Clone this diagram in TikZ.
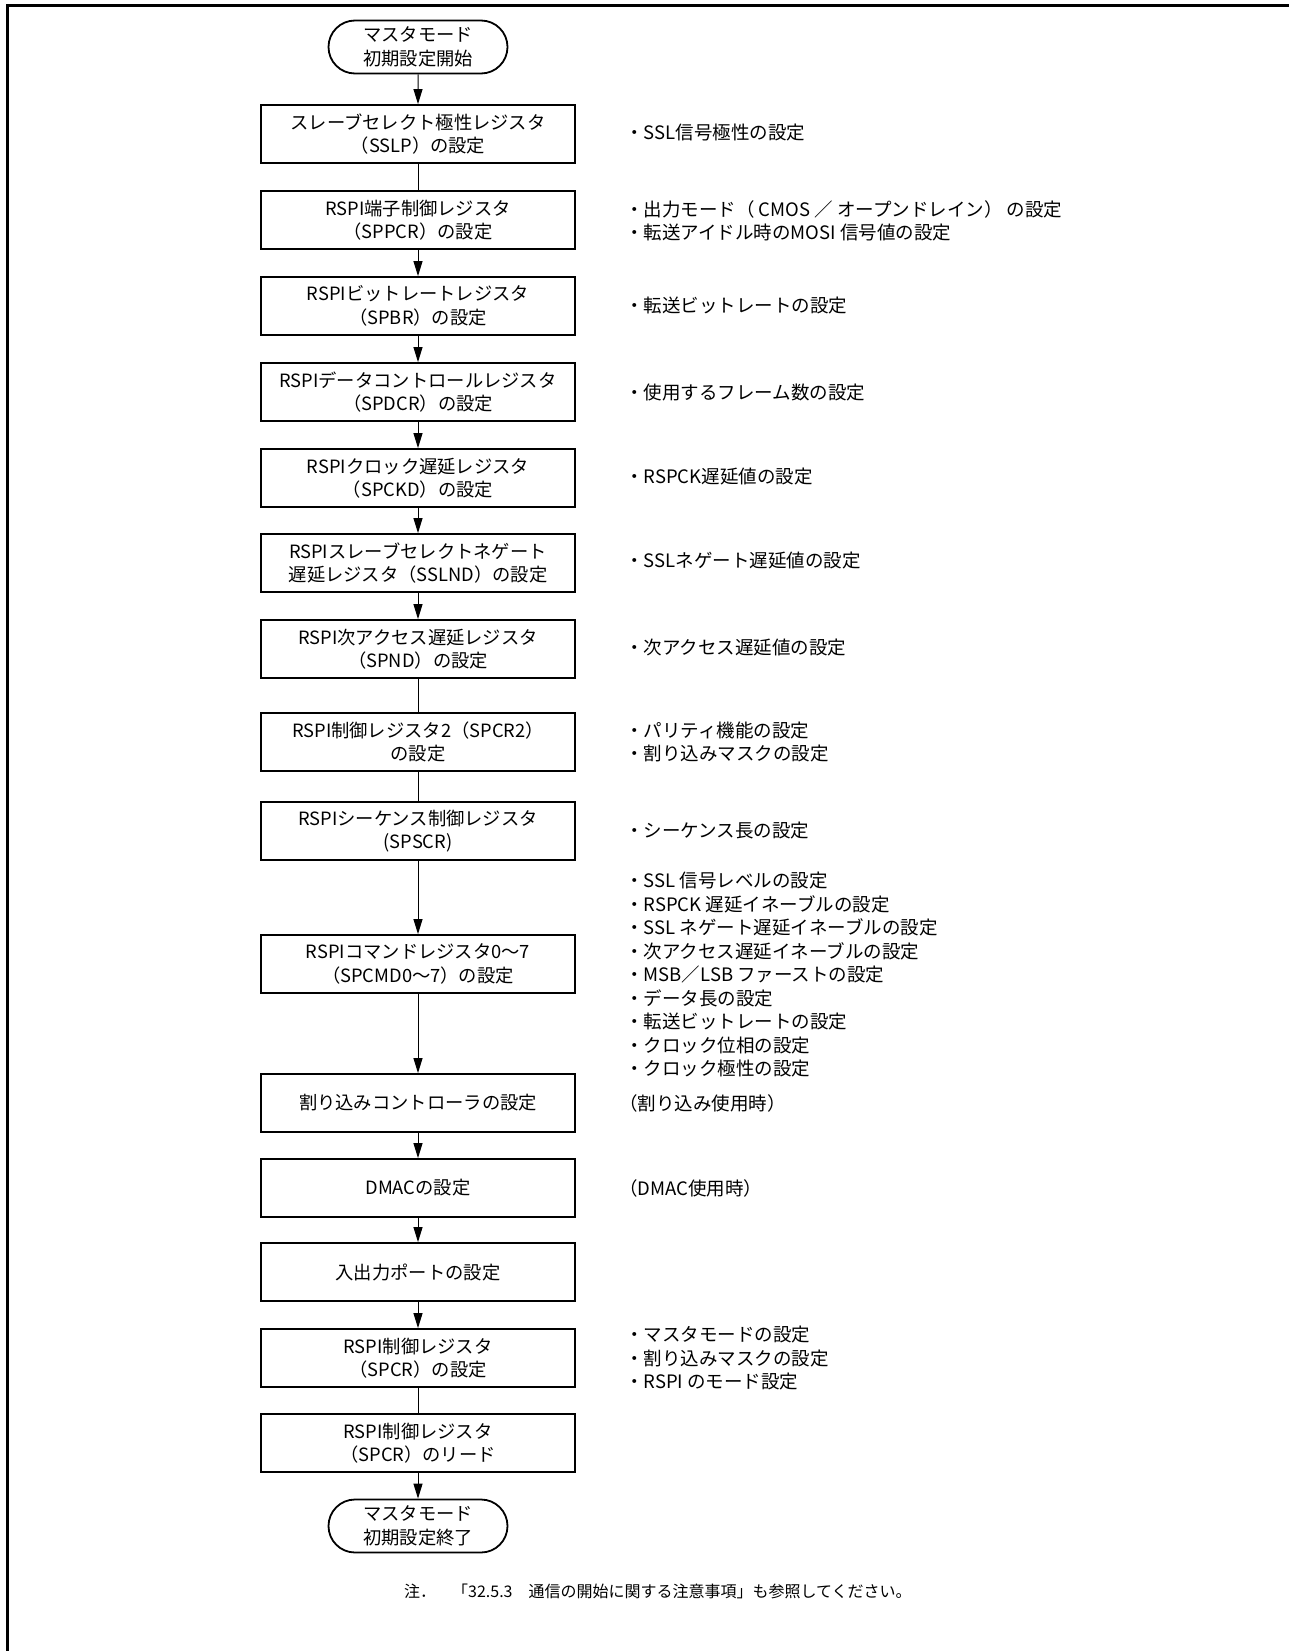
\documentclass[tikz,border=0pt]{standalone}
\usepackage{fontspec}
\setmainfont{Noto Sans CJK JP}
\usetikzlibrary{arrows.meta,shapes.misc}

\tikzset{
  every node/.style={font=\fontsize{18.3}{23.5}\selectfont},
  procbox/.style={draw, line width=1.8pt, minimum width=314pt, minimum height=58pt, align=center, inner sep=0pt},
  term/.style={draw, line width=1.8pt, rounded rectangle, minimum width=179pt, minimum height=53pt, align=center, inner sep=0pt},
  memo/.style={anchor=west, align=left, inner sep=0pt, font=\fontsize{18.5}{23.5}\selectfont},
  notetext/.style={anchor=west, inner sep=0pt, font=\fontsize{16}{20}\selectfont},
  link/.style={line width=1pt},
  flow/.style={line width=1pt, -{Triangle[length=15pt,width=9pt]}},
  frame/.style={line width=3pt},
}

\begin{document}
\begin{tikzpicture}[x=1pt,y=-1pt]
\useasboundingbox (0,0) rectangle (1289,1651);
\draw[frame] (7,1651) -- (7,5.5) -- (1289,5.5);

% flow column
\node[term] (start) at (418,47) {マスタモード\\初期設定開始};
\node[procbox] (b1) at (418,134) {スレーブセレクト極性レジスタ\\（SSLP）の設定};
\node[procbox] (b2) at (418,220) {RSPI端子制御レジスタ\\（SPPCR）の設定};
\node[procbox] (b3) at (418,306) {RSPIビットレートレジスタ\\（SPBR）の設定};
\node[procbox] (b4) at (418,392) {RSPIデータコントロールレジスタ\\（SPDCR）の設定};
\node[procbox] (b5) at (418,478) {RSPIクロック遅延レジスタ\\（SPCKD）の設定};
\node[procbox] (b6) at (418,563) {RSPIスレーブセレクトネゲート\\遅延レジスタ（SSLND）の設定};
\node[procbox] (b7) at (418,649) {RSPI次アクセス遅延レジスタ\\（SPND）の設定};
\node[procbox] (b8) at (418,742) {RSPI制御レジスタ2（SPCR2）\\の設定};
\node[procbox] (b9) at (418,831) {RSPIシーケンス制御レジスタ\\(SPSCR)};
\node[procbox] (b10) at (418,964) {RSPIコマンドレジスタ0～7\\（SPCMD0～7）の設定};
\node[procbox] (b11) at (418,1103) {割り込みコントローラの設定};
\node[procbox] (b12) at (418,1188) {DMACの設定};
\node[procbox] (b13) at (418,1272) {入出力ポートの設定};
\node[procbox] (b14) at (418,1358) {RSPI制御レジスタ\\（SPCR）の設定};
\node[procbox] (b15) at (418,1443) {RSPI制御レジスタ\\（SPCR）のリード};
\node[term] (end) at (418,1526) {マスタモード\\初期設定終了};

% connectors
\draw[flow] (start) -- (b1);
\draw[link] (b1) -- (b2);
\draw[flow] (b2) -- (b3);
\draw[flow] (b3) -- (b4);
\draw[flow] (b4) -- (b5);
\draw[flow] (b5) -- (b6);
\draw[flow] (b6) -- (b7);
\draw[link] (b7) -- (b8);
\draw[link] (b8) -- (b9);
\draw[flow] (b9) -- (b10);
\draw[flow] (b10) -- (b11);
\draw[flow] (b11) -- (b12);
\draw[flow] (b12) -- (b13);
\draw[flow] (b13) -- (b14);
\draw[link] (b14) -- (b15);
\draw[flow] (b15) -- (end);

% side notes
\node[memo] (m1) at (625,133) {・SSL信号極性の設定};
\node[memo] (m2) at (625,221) {・出力モード（ CMOS ／ オープンドレイン） の設定\\・転送アイドル時のMOSI 信号値の設定};
\node[memo] (m3) at (625,306) {・転送ビットレートの設定};
\node[memo] (m4) at (625,392) {・使用するフレーム数の設定};
\node[memo] (m5) at (625,477) {・RSPCK遅延値の設定};
\node[memo] (m6) at (625,561) {・SSLネゲート遅延値の設定};
\node[memo] (m7) at (625,648) {・次アクセス遅延値の設定};
\node[memo] (m8) at (625,742) {・パリティ機能の設定\\・割り込みマスクの設定};
\node[memo] (m9) at (625,831) {・シーケンス長の設定};
\node[memo] (m10) at (625,975) {・SSL 信号レベルの設定\\・RSPCK 遅延イネーブルの設定\\・SSL ネゲート遅延イネーブルの設定\\・次アクセス遅延イネーブルの設定\\・MSB／LSB ファーストの設定\\・データ長の設定\\・転送ビットレートの設定\\・クロック位相の設定\\・クロック極性の設定};
\node[memo] (m11) at (619,1103) {（割り込み使用時）};
\node[memo] (m12) at (619,1188) {（DMAC使用時）};
\node[memo] (m14) at (625,1358) {・マスタモードの設定\\・割り込みマスクの設定\\・RSPI のモード設定};

% footnote
\node[notetext] (note) at (404,1591) {注．　「32.5.3　通信の開始に関する注意事項」も参照してください。};
\end{tikzpicture}
\end{document}
